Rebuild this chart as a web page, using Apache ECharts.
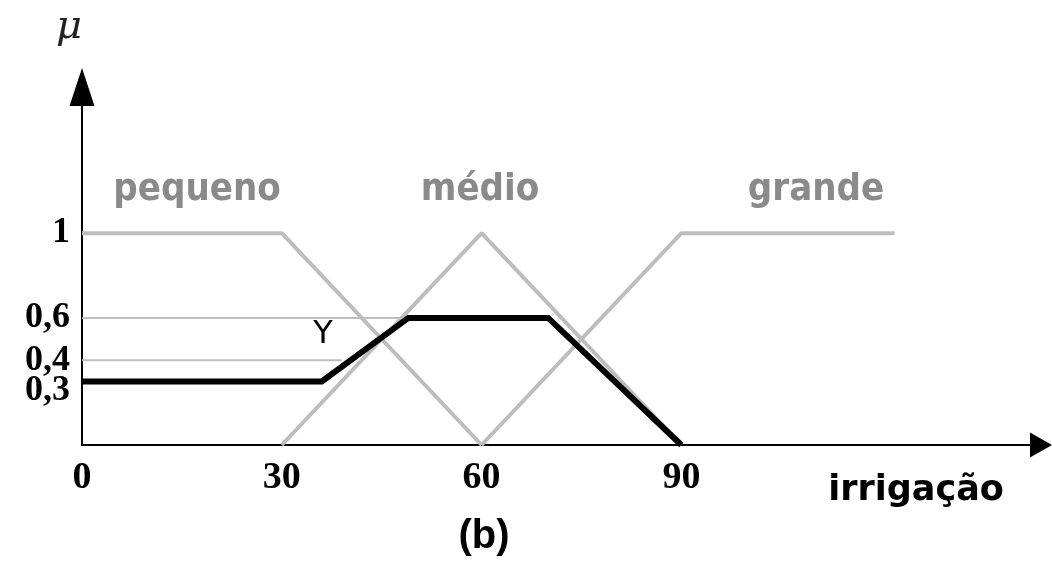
<!DOCTYPE html>
<html>
<head>
<meta charset="utf-8">
<script src="https://cdn.jsdelivr.net/npm/echarts@6/dist/echarts.min.js"></script>
<style>
  html, body { margin: 0; padding: 0; background: #fff; }
  #chart { width: 1052px; height: 561px; }
</style>
</head>
<body>
<div id="chart"></div>
<script>
// membership functions (irrigação)
const pequeno = [[0, 1], [30, 1], [60, 0]]
const medio = [[30, 0], [60, 1], [90, 0]]
const grande = [[60, 0], [90, 1], [122, 1]]
// aggregated output
const saida = [[0, 0.3], [36, 0.3], [49, 0.6], [70, 0.6], [90, 0]]
// horizontal guide lines
const guia06 = [[0, 0.6], [48, 0.6]]
const guia04 = [[0, 0.4], [39, 0.4]]

const xTicks = [0, 30, 60, 90]
const yTicks = [0.3, 0.4, 0.6, 1]
const yTickLabels = ['0,3', '0,4', '0,6', '1']

const grayLine = '#bdbdbd'
const grayText = '#8a8a8a'
const tickFont = "'Liberation Serif', serif"
const labelFont = "bold 38px 'DejaVu Sans Condensed', sans-serif"

function grayLineSeries(name, data, width) {
  return {
    name: name,
    type: 'line',
    data: data,
    showSymbol: false,
    silent: true,
    lineStyle: { color: grayLine, width: width },
    z: 2
  }
}

function textAt(text, x, y, fill, font) {
  return {
    type: 'text', x: x, y: y,
    style: { text: text, fill: fill, font: font, align: 'center', verticalAlign: 'middle' }
  }
}

function yLabel(v) {
  const i = yTicks.findIndex(t => Math.abs(t - v) < 1e-6)
  if (i < 0) return ''
  // nudge 0,3 a little down so it doesn't run into 0,4
  return i === 0 ? '{low|' + yTickLabels[i] + '}' : yTickLabels[i]
}

// 0,3 and 0,4 sit close together, so they go on two overlaid axes
// (otherwise echarts drops one of them)
function yAxisWith(values, showLine) {
  return {
    type: 'value',
    min: 0,
    max: 1.69,
    position: 'left',
    splitLine: { show: false },
    axisTick: { show: false },
    axisLine: {
      show: showLine,
      lineStyle: { color: '#000', width: 2 },
      symbol: ['none', 'triangle'],
      symbolSize: [25, 38]
    },
    axisLabel: {
      customValues: values,
      showMinLabel: true,
      margin: 12,
      color: '#000',
      fontFamily: tickFont,
      fontWeight: 'bold',
      fontSize: 36,
      formatter: yLabel,
      rich: {
        low: {
          padding: [18, 0, 0, 0],
          color: '#000',
          fontFamily: tickFont,
          fontWeight: 'bold',
          fontSize: 36
        }
      }
    }
  }
}

const chart = echarts.init(document.getElementById('chart'))

chart.setOption({
  animation: false,
  grid: { left: 82, right: 11, top: 87, bottom: 116 },
  xAxis: {
    type: 'value',
    min: 0,
    max: 144,
    splitLine: { show: false },
    axisTick: { show: false },
    axisLine: {
      lineStyle: { color: '#000', width: 2 },
      symbol: ['none', 'triangle'],
      symbolSize: [25, 22]
    },
    axisLabel: {
      customValues: xTicks,
      margin: 14,
      color: '#000',
      fontFamily: tickFont,
      fontWeight: 'bold',
      fontSize: 38
    }
  },
  yAxis: [
    yAxisWith(yTicks.filter(v => v !== 0.4), true),
    yAxisWith([0.4], false)
  ],
  series: [
    grayLineSeries('guia 0,6', guia06, 2),
    grayLineSeries('guia 0,4', guia04, 2),
    grayLineSeries('pequeno', pequeno, 4),
    grayLineSeries('médio', medio, 4),
    grayLineSeries('grande', grande, 4),
    {
      name: 'saída',
      type: 'line',
      data: saida,
      showSymbol: false,
      silent: true,
      lineStyle: { color: '#000', width: 6, join: 'miter' },
      z: 3
    }
  ],
  graphic: [
    textAt('pequeno', 197, 190, grayText, labelFont),
    textAt('médio', 480, 190, grayText, labelFont),
    textAt('grande', 816, 190, grayText, labelFont),
    textAt('μ', 69, 28, '#222', "italic 40px 'DejaVu Serif', serif"),
    textAt('Y', 323, 335, '#000', "32px 'DejaVu Sans', sans-serif"),
    textAt('irrigação', 916, 491, '#000', "bold 35px 'DejaVu Sans', sans-serif"),
    textAt('(b)', 484, 537, '#000', "bold 40px 'Liberation Sans', sans-serif")
  ]
})
</script>
</body>
</html>
